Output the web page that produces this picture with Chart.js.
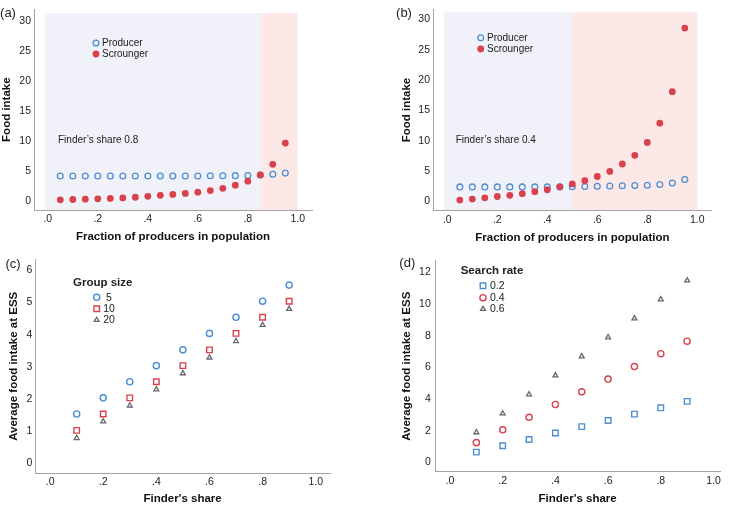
<!DOCTYPE html>
<html>
<head>
<meta charset="utf-8">
<script src="https://cdn.jsdelivr.net/npm/chart.js@4.4.1/dist/chart.umd.min.js"></script>
<style>
  body { margin: 0; background: #fff; width: 729px; height: 506px; position: relative; overflow: hidden; }
  canvas { position: absolute; }
</style>
</head>
<body>
<canvas id="chartA" width="364" height="250" style="left:0;top:0"></canvas>
<canvas id="chartB" width="365" height="250" style="left:364px;top:0"></canvas>
<canvas id="chartC" width="364" height="256" style="left:0;top:250px"></canvas>
<canvas id="chartD" width="365" height="256" style="left:364px;top:250px"></canvas>
<script>
// ---- data ----
const fracProducers = [0.05, 0.10, 0.15, 0.20, 0.25, 0.30, 0.35, 0.40, 0.45, 0.50,
                       0.55, 0.60, 0.65, 0.70, 0.75, 0.80, 0.85, 0.90, 0.95];
const producerA  = [4.15, 4.15, 4.15, 4.15, 4.15, 4.15, 4.15, 4.15, 4.15, 4.15,
                    4.15, 4.15, 4.17, 4.18, 4.2, 4.22, 4.3, 4.42, 4.62];
const scroungerA = [0.16, 0.21, 0.26, 0.32, 0.38, 0.47, 0.58, 0.73, 0.9, 1.06,
                    1.23, 1.44, 1.7, 2.08, 2.6, 3.28, 4.32, 6.1, 9.65];
const producerB  = [2.38, 2.38, 2.38, 2.38, 2.38, 2.38, 2.38, 2.38, 2.38, 2.4,
                    2.44, 2.48, 2.52, 2.56, 2.6, 2.66, 2.78, 3.03, 3.6];
const scroungerB = [0.21, 0.37, 0.58, 0.8, 1.0, 1.27, 1.59, 1.91, 2.39, 2.87,
                    3.4, 4.1, 4.94, 6.16, 7.6, 9.71, 12.9, 18.1, 28.6];
const regionsA = [-0.012, 0.853, 1.0];   // producer-favoured | scrounger-favoured
const regionsB = [-0.012, 0.5, 1.0];
const shadeTopA = 31.4;
const shadeTopB = 31.2;

const finderShare = [0.1, 0.2, 0.3, 0.4, 0.5, 0.6, 0.7, 0.8, 0.9];
const group5  = [1.54, 2.04, 2.54, 3.04, 3.53, 4.04, 4.54, 5.04, 5.54];
const group10 = [1.03, 1.54, 2.04, 2.54, 3.04, 3.53, 4.04, 4.54, 5.04];
const group20 = [0.79, 1.31, 1.8, 2.3, 2.8, 3.29, 3.8, 4.3, 4.8];
const rate02 = [0.65, 1.05, 1.45, 1.86, 2.26, 2.65, 3.05, 3.45, 3.86];
const rate04 = [1.25, 2.06, 2.85, 3.66, 4.46, 5.27, 6.06, 6.87, 7.66];
const rate06 = [1.9, 3.09, 4.3, 5.5, 6.7, 7.9, 9.1, 10.3, 11.5];

const xTicks = [0, 0.2, 0.4, 0.6, 0.8, 1.0];
const xTickLabels = ['.0', '.2', '.4', '.6', '.8', '1.0'];
const yTicksAB = [0, 5, 10, 15, 20, 25, 30];
const yTicksC = [0, 1, 2, 3, 4, 5, 6];
const yTicksD = [0, 2, 4, 6, 8, 10, 12];

const strategyLabels = ['Producer', 'Scrounger'];
const groupSizes = ['5', '10', '20'];
const searchRates = ['0.2', '0.4', '0.6'];

// ---- styles ----
const FONT = '"Liberation Sans", Arial, sans-serif';
const BLUE = '#4d8fd4', RED = '#d9424c', GRAY = '#676767', AXIS = '#a3a3a3';
const SHADES = ['#f0f1f9', '#fde8e8'];
Chart.defaults.font.family = FONT;
Chart.defaults.color = '#222';

const pts = (xs, ys) => xs.map((x, i) => ({ x: x, y: ys[i] }));

function drawMarker(ctx, ds, x, y) {
  ctx.fillStyle = ds.pointBackgroundColor;
  ctx.strokeStyle = ds.pointBorderColor;
  ctx.lineWidth = ds.pointBorderWidth;
  Chart.helpers.drawPoint(ctx, { pointStyle: ds.pointStyle, radius: ds.pointRadius,
    borderWidth: ds.pointBorderWidth, rotation: 0 }, x, y);
}

// shading, legends and panel labels
const decor = {
  id: 'decor',
  beforeDraw(chart, args, o) {
    if (!o.regions) return;
    const { ctx, chartArea, scales: { x, y } } = chart;
    const top = y.getPixelForValue(o.shadeTop);
    ctx.save();
    for (let i = 0; i < o.regions.length - 1; i++) {
      const x0 = x.getPixelForValue(o.regions[i]);
      const x1 = x.getPixelForValue(o.regions[i + 1]);
      ctx.fillStyle = SHADES[i];
      ctx.fillRect(x0, top, x1 - x0, chartArea.bottom - top);
    }
    ctx.restore();
  },
  afterDraw(chart, args, o) {
    const ctx = chart.ctx;
    ctx.save();
    ctx.fillStyle = '#222';
    ctx.textBaseline = 'middle';
    ctx.textAlign = 'center';
    ctx.font = '13px ' + FONT;
    ctx.fillText(o.panel, o.panelAt[0], o.panelAt[1]);

    if (o.note) {
      ctx.textAlign = 'left';
      ctx.font = '10px ' + FONT;
      ctx.fillText(o.note, o.noteAt[0], o.noteAt[1]);
    }

    const lg = o.legend;
    if (lg.title) {
      ctx.textAlign = 'left';
      ctx.fillStyle = '#222';
      ctx.font = 'bold 11.5px ' + FONT;
      ctx.fillText(lg.title, lg.titleAt[0], lg.titleAt[1]);
    }
    lg.labels.forEach((lab, i) => {
      const ds = chart.data.datasets[i];
      drawMarker(ctx, ds, lg.markerX, lg.rows[i]);
      ctx.fillStyle = '#222';
      ctx.textAlign = lg.align;
      ctx.font = lg.size + 'px ' + FONT;
      ctx.fillText(lab, lg.textX, lg.rows[i] + 0.5);
    });
    ctx.restore();
  }
};

function xScale(min, max, boxH, title, titlePad) {
  return {
    type: 'linear', min: min, max: max,
    grid: { display: false, drawTicks: false },
    border: { display: true, color: AXIS, width: 1 },
    afterBuildTicks: s => { s.ticks = xTicks.map(v => ({ value: v })); },
    afterFit: s => { s.height = boxH; },
    ticks: { padding: 3, autoSkip: false, maxRotation: 0, color: '#222', font: { size: 10.5 },
      callback: (v, i) => xTickLabels[i] },
    title: { display: true, text: title, color: '#111', font: { size: 11.5, weight: 'bold' },
      padding: { top: 0, bottom: titlePad } }
  };
}

function yScale(min, max, boxW, tickVals, title, tickPad) {
  return {
    type: 'linear', min: min, max: max,
    grid: { display: false, drawTicks: false },
    border: { display: true, color: AXIS, width: 1 },
    afterBuildTicks: s => { s.ticks = tickVals.map(v => ({ value: v })); },
    afterFit: s => { s.width = boxW; },
    ticks: { padding: tickPad, autoSkip: false, color: '#222', font: { size: 10.5 },
      callback: v => String(v) },
    title: { display: true, text: title, color: '#111', font: { size: 11.5, weight: 'bold' },
      padding: { top: 0, bottom: 0 } }
  };
}

function makeChart(id, datasets, pad, scales, decorOpts) {
  return new Chart(document.getElementById(id), {
    type: 'scatter',
    data: { datasets: datasets },
    options: {
      responsive: false, animation: false, devicePixelRatio: 1, events: [],
      layout: { padding: pad, autoPadding: false },
      scales: scales,
      plugins: { legend: { display: false }, tooltip: { enabled: false }, decor: decorOpts }
    },
    plugins: [decor]
  });
}

const hollowCircle = c => ({ pointStyle: 'circle', pointRadius: 2.9, pointBorderWidth: 1.3,
  pointBorderColor: c, pointBackgroundColor: 'rgba(0,0,0,0)' });
const dot = c => ({ pointStyle: 'circle', pointRadius: 3.4, pointBorderWidth: 0,
  pointBorderColor: c, pointBackgroundColor: c });
const circ = c => ({ pointStyle: 'circle', pointRadius: 3.1, pointBorderWidth: 1.4,
  pointBorderColor: c, pointBackgroundColor: 'rgba(0,0,0,0)' });
const square = c => ({ pointStyle: 'rect', pointRadius: 3.9, pointBorderWidth: 1.4,
  pointBorderColor: c, pointBackgroundColor: 'rgba(0,0,0,0)' });
const tri = c => ({ pointStyle: 'triangle', pointRadius: 2.8, pointBorderWidth: 1.3,
  pointBorderColor: c, pointBackgroundColor: 'rgba(0,0,0,0)' });

// (a)
makeChart('chartA', [
  Object.assign({ label: strategyLabels[0], data: pts(fracProducers, producerA), order: 1 }, hollowCircle(BLUE)),
  Object.assign({ label: strategyLabels[1], data: pts(fracProducers, scroungerA), order: 0 }, dot(RED))
], { left: 0, top: 0, right: 52, bottom: 0 }, {
  x: xScale(-0.0552, 1.0568, 40, 'Fraction of producers in population', 6),
  y: yScale(-1.55, 32.03, 34, yTicksAB, 'Food intake', 3)
}, {
  regions: regionsA, shadeTop: shadeTopA, panel: '(a)', panelAt: [8, 13],
  note: 'Finder\u2019s share 0.8', noteAt: [58, 140],
  legend: { labels: strategyLabels, markerX: 96, rows: [43, 54], textX: 102, align: 'left', size: 10 }
});

// (b)
makeChart('chartB', [
  Object.assign({ label: strategyLabels[0], data: pts(fracProducers, producerB), order: 1 }, hollowCircle(BLUE)),
  Object.assign({ label: strategyLabels[1], data: pts(fracProducers, scroungerB), order: 0 }, dot(RED))
], { left: 36, top: 2, right: 17.3, bottom: 0 }, {
  x: xScale(-0.0572, 1.0576, 39.3, 'Fraction of producers in population', 5.4),
  y: yScale(-1.545, 31.69, 33, yTicksAB, 'Food intake', 3)
}, {
  regions: regionsB, shadeTop: shadeTopB, panel: '(b)', panelAt: [40, 13],
  note: 'Finder\u2019s share 0.4', noteAt: [91.7, 140],
  legend: { labels: strategyLabels, markerX: 116.7, rows: [37.7, 49], textX: 123, align: 'left', size: 10 }
});

// (c)
makeChart('chartC', [
  Object.assign({ label: groupSizes[0], data: pts(finderShare, group5) }, circ(BLUE)),
  Object.assign({ label: groupSizes[1], data: pts(finderShare, group10) }, square(RED)),
  Object.assign({ label: groupSizes[2], data: pts(finderShare, group20) }, tri(GRAY))
], { left: 7, top: 2.7, right: 34, bottom: 0 }, {
  x: xScale(-0.0557, 1.0538, 32.7, 'Finder\u0027s share', 0),
  y: yScale(-0.301, 6.34, 28.3, yTicksC, 'Average food intake at ESS', 3)
}, {
  panel: '(c)', panelAt: [13, 14],
  legend: { title: 'Group size', titleAt: [73, 33], labels: groupSizes, markerX: 96.7,
    rows: [47.3, 58.7, 70], textX: 109, align: 'center', size: 10.5 }
});

// (d)
makeChart('chartD', [
  Object.assign({ label: searchRates[0], data: pts(finderShare, rate02) }, square(BLUE)),
  Object.assign({ label: searchRates[1], data: pts(finderShare, rate04) }, circ(RED)),
  Object.assign({ label: searchRates[2], data: pts(finderShare, rate06) }, tri(GRAY))
], { left: 36, top: 1.7, right: 9, bottom: 0 }, {
  x: xScale(-0.0558, 1.0247, 34.3, 'Finder\u0027s share', 0),
  y: yScale(-0.588, 12.745, 35.3, yTicksD, 'Average food intake at ESS', 4.5)
}, {
  panel: '(d)', panelAt: [43.3, 13.3],
  legend: { title: 'Search rate', titleAt: [96.7, 21.3], labels: searchRates, markerX: 119,
    rows: [35.7, 47.7, 59], textX: 126, align: 'left', size: 10.5 }
});
</script>
</body>
</html>
